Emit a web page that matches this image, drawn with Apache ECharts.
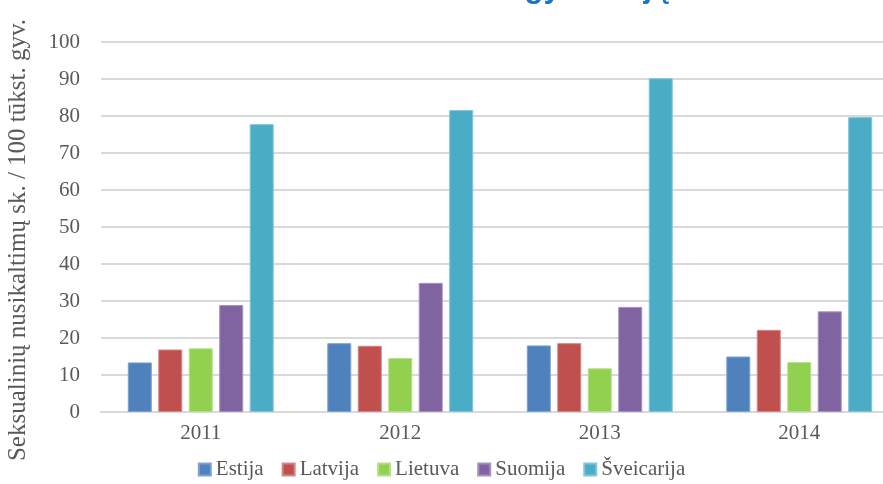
<!DOCTYPE html>
<html>
<head>
<meta charset="utf-8">
<script src="https://cdn.jsdelivr.net/npm/echarts@6/dist/echarts.min.js"></script>
<style>
  html, body { margin: 0; padding: 0; background: #fff; }
  #main { width: 883px; height: 484px; }
</style>
</head>
<body>
<div id="main"></div>
<script>
var years = ['2011', '2012', '2013', '2014'];
var estija = [13.4, 18.6, 18.0, 15.0];
var latvija = [16.9, 17.9, 18.6, 22.2];
var lietuva = [17.2, 14.6, 11.8, 13.5];
var suomija = [28.9, 34.9, 28.4, 27.2];
var sveicarija = [77.8, 81.6, 90.2, 79.7];

var names = ['Estija', 'Latvija', 'Lietuva', 'Suomija', 'Šveicarija'];
var colors = ['#4F81BD', '#C0504D', '#92D050', '#8064A2', '#4BACC6'];
var borders = ['#7fa3d1', '#d58583', '#b5e08a', '#a690c0', '#80c6d9'];
var values = [estija, latvija, lietuva, suomija, sveicarija];

var serif = '"Liberation Serif", "DejaVu Serif", serif';

function makeSeries() {
    var s = [];
    for (var i = 0; i < names.length; i++) {
        s.push({
            name: names[i],
            type: 'bar',
            data: values[i],
            barWidth: 24,
            barGap: '27%',
            itemStyle: {
                color: colors[i],
                borderColor: borders[i],
                borderWidth: 1
            }
        });
    }
    return s;
}

var myChart = echarts.init(document.getElementById('main'));
myChart.setOption({
    backgroundColor: '#fff',
    animation: false,
    graphic: [{
        type: 'text',
        right: 883 - 671,
        top: -27,
        style: {
            text: 'Seksualiniai nusikaltimai 100 tūkst. gyventojų',
            font: 'bold 31px "Liberation Sans", sans-serif',
            fill: '#1a73c8'
        }
    }],
    legend: {
        data: names,
        top: 454,
        left: 'center',
        icon: 'rect',
        itemWidth: 12,
        itemHeight: 12,
        itemGap: 18,
        textStyle: {
            fontFamily: serif,
            fontSize: 21,
            color: '#595959'
        }
    },
    grid: {
        left: 101,
        top: 42,
        width: 798,
        height: 370,
        containLabel: false,
        outerBoundsMode: 'none'
    },
    xAxis: {
        type: 'category',
        data: years,
        axisLine: { lineStyle: { color: '#d9d9d9', width: 2 } },
        axisTick: { show: false },
        axisLabel: {
            margin: 11,
            fontFamily: serif,
            fontSize: 21,
            color: '#595959'
        }
    },
    yAxis: {
        type: 'value',
        min: 0,
        max: 100,
        interval: 10,
        name: 'Seksualinių nusikaltimų sk. / 100 tūkst. gyv.',
        nameLocation: 'middle',
        nameGap: 70,
        nameTextStyle: {
            fontFamily: serif,
            fontSize: 25,
            color: '#595959',
            padding: [0, 26, 0, 0]
        },
        axisLine: { show: false },
        axisTick: { show: false },
        axisLabel: {
            margin: 21,
            fontFamily: serif,
            fontSize: 21,
            color: '#595959'
        },
        splitLine: { lineStyle: { color: '#d9d9d9', width: 2 } }
    },
    series: makeSeries()
});
</script>
</body>
</html>
